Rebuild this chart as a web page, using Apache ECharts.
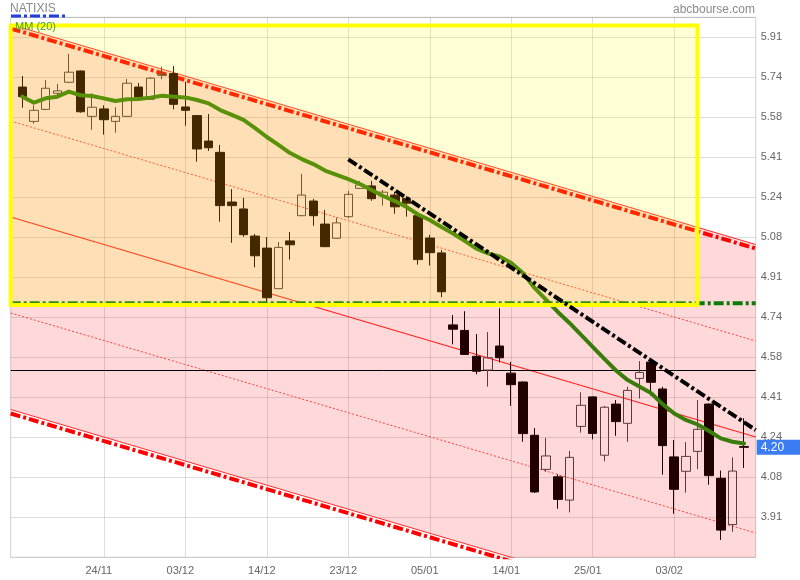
<!DOCTYPE html>
<html><head><meta charset="utf-8">
<script src="https://cdn.jsdelivr.net/npm/echarts@6/dist/echarts.min.js"></script>
<style>html,body{margin:0;padding:0;background:#fff}#c{width:800px;height:580px}</style>
</head><body><div id="c"></div>
<script>
// Trading days (first and last entries are empty padding slots at the plot edges)
const categories = ['12/11',
 '13/11','16/11','17/11','18/11','19/11','20/11','23/11','24/11','25/11','26/11','27/11','30/11',
 '01/12','02/12','03/12','04/12','07/12','08/12','09/12','10/12','11/12','14/12','15/12','16/12','17/12','18/12','21/12','22/12','23/12','24/12','28/12','29/12','30/12','31/12',
 '04/01','05/01','06/01','07/01','08/01','11/01','12/01','13/01','14/01','15/01','18/01','19/01','20/01','21/01','22/01','25/01','26/01','27/01','28/01','29/01',
 '01/02','02/02','03/02','04/02','05/02','08/02','09/02','10/02','11/02',
 '12/02'];
const xTickLabels = ['24/11','03/12','14/12','23/12','05/01','14/01','25/01','03/02'];

const opens  = [5.701,5.558,5.608,5.675,5.721,5.768,5.579,5.610,5.558,5.579,5.701,5.650,5.750,5.757,5.618,5.582,5.476,5.429,5.222,5.193,5.080,5.030,4.861,5.060,5.165,5.226,5.130,5.071,5.161,5.279,5.289,5.248,5.251,5.237,5.165,5.072,5.010,4.710,4.687,4.579,4.522,4.622,4.509,4.472,4.250,4.108,4.077,3.980,4.287,4.410,4.167,4.380,4.300,4.487,4.555,4.443,4.160,4.100,4.183,4.380,4.071,3.878,4.203];
const closes = [5.661,5.604,5.696,5.685,5.763,5.598,5.617,5.565,5.579,5.717,5.660,5.738,5.755,5.629,5.604,5.443,5.448,5.207,5.207,5.086,4.998,4.823,5.033,5.044,5.251,5.165,5.036,5.135,5.254,5.293,5.236,5.263,5.202,5.217,4.982,5.011,4.848,4.692,4.587,4.517,4.573,4.573,4.461,4.257,4.014,4.164,3.983,4.158,4.375,4.258,4.367,4.307,4.437,4.512,4.471,4.207,4.025,4.162,4.275,4.082,3.855,4.101,4.200];
const lows   = [5.615,5.548,5.605,5.654,5.719,5.594,5.523,5.503,5.511,5.577,5.655,5.648,5.733,5.608,5.540,5.390,5.435,5.140,5.052,5.077,4.950,4.802,4.859,4.982,5.163,5.123,5.034,5.069,5.154,5.276,5.227,5.207,5.173,5.161,4.961,4.957,4.825,4.629,4.585,4.504,4.453,4.554,4.373,4.223,4.010,4.098,3.944,3.929,4.261,4.233,4.142,4.248,4.223,4.403,4.415,4.086,3.923,4.011,4.109,4.044,3.814,3.848,4.114];
const highs  = [5.747,5.625,5.730,5.714,5.839,5.770,5.675,5.625,5.617,5.735,5.718,5.742,5.786,5.789,5.723,5.585,5.589,5.460,5.276,5.239,5.089,5.076,5.055,5.097,5.339,5.235,5.189,5.157,5.268,5.310,5.310,5.272,5.265,5.247,5.175,5.085,5.022,4.751,4.767,4.672,4.680,4.779,4.556,4.475,4.280,4.239,4.087,4.185,4.429,4.412,4.372,4.397,4.452,4.559,4.567,4.452,4.230,4.222,4.397,4.383,4.103,4.158,4.321];
const ma20   = [5.661,5.636,5.654,5.661,5.682,5.667,5.664,5.654,5.643,5.650,5.651,5.657,5.665,5.661,5.658,5.647,5.633,5.605,5.585,5.564,5.530,5.493,5.460,5.426,5.401,5.380,5.353,5.335,5.317,5.297,5.272,5.247,5.226,5.201,5.170,5.147,5.118,5.091,5.060,5.028,5.008,4.995,4.968,4.926,4.864,4.814,4.764,4.718,4.668,4.618,4.568,4.520,4.480,4.453,4.426,4.380,4.341,4.314,4.295,4.268,4.237,4.223,4.216];

// Regression channel (values at the left and right plot edges)
const channelX   = [0, 64];
const channelMid = [5.1596, 4.2429];
const channelUp1 = [5.5596, 4.6429];
const channelLo1 = [4.7596, 3.8429];
const channelUp2 = [5.9617, 5.0450];
const channelLo2 = [4.3575, 3.4408];
const dashUp     = [5.9450, 5.0283];
const dashLo     = [4.3408, 3.4241];
// Other drawn levels
const trendX = [29, 64];
const trendY = [5.400, 4.272];
const blackLevel = 4.52;
const greenLevel = 4.80;
const boxX = [0, 59];
const boxY = [5.958, 4.793];
const lastPrice = 4.20;

const yMin = 3.741667, yStep = 1/6, yMax = 3.741667 + 13.5/6;

const FONT = 'Liberation Sans, Arial, sans-serif';
const seg = (xs, ys) => xs.map((x, i) => [x, ys[i]]);
const DASHDOT = [10, 3, 3, 3];
function lineS(data, style, z, extra) {
  return Object.assign({
    type: 'line', data: data, symbol: 'none', showSymbol: false, silent: true, z: z,
    lineStyle: style, emphasis: { disabled: true }
  }, extra || {});
}
const tickFn = (idx, val) => xTickLabels.indexOf(val) >= 0;

const chart = echarts.init(document.getElementById('c'), null, { renderer: 'canvas' });
chart.setOption({
  animation: false,
  backgroundColor: '#fff',
  title: { text: 'NATIXIS', left: 10, top: 3, padding: 0,
    textStyle: { fontSize: 12, color: '#8c8c8c', fontWeight: 'normal', fontFamily: FONT } },
  grid: { left: 10.7, right: 44.3, top: 17.3, bottom: 22.7, show: true,
    borderColor: '#d0d0d0', borderWidth: 1, backgroundColor: '#fff' },
  xAxis: {
    type: 'category', data: categories, boundaryGap: false,
    axisLine: { show: true, lineStyle: { color: '#cccccc' } },
    axisTick: { show: false },
    axisLabel: { interval: tickFn, color: '#666', fontSize: 11, fontFamily: FONT, margin: 8, padding: [0, 10, 0, 0] },
    splitLine: { show: true, interval: tickFn, lineStyle: { color: 'rgba(0,0,0,0.13)', width: 1 } }
  },
  yAxis: {
    type: 'value', position: 'right', min: yMin, max: yMax, interval: yStep, scale: true,
    axisLine: { show: false }, axisTick: { show: false },
    axisLabel: { showMinLabel: false, showMaxLabel: false, color: '#666', fontSize: 11, fontFamily: FONT,
      margin: 5, padding: [0, 0, 4, 0], formatter: v => v.toFixed(2) },
    splitLine: { show: true, lineStyle: { color: 'rgba(0,0,0,0.13)', width: 1 } }
  },
  graphic: [
    { type: 'text', right: 45, top: 4, style: { text: 'abcbourse.com', fill: '#8a8a8a', fontSize: 12, fontFamily: FONT } },
    { type: 'line', z: 100, shape: { x1: 11, y1: 16, x2: 66, y2: 16 },
      style: { stroke: '#1f3fe0', lineWidth: 3, lineDash: DASHDOT } },
    { type: 'text', left: 15, top: 21, z: 100, style: { text: 'MM (20)', fill: '#46a010', fontSize: 11, fontFamily: FONT } }
  ],
  series: [
    // pink channel band
    lineS(seg(channelX, channelLo2), { color: '#ff2a2a', width: 1 }, 1, { stack: 'band' }),
    lineS(channelX.map((x, i) => [x, channelUp2[i] - channelLo2[i]]), { color: '#ff2a2a', width: 1 }, 1,
      { stack: 'band', areaStyle: { color: 'rgba(255,0,0,0.15)', opacity: 1 } }),
    lineS(seg(channelX, channelMid), { color: '#ff2020', width: 1.2 }, 2),
    lineS(seg(channelX, channelUp1), { color: '#ff3c3c', width: 1, type: [2, 2] }, 2),
    lineS(seg(channelX, channelLo1), { color: '#ff3c3c', width: 1, type: [2, 2] }, 2),
    lineS(seg(channelX, dashUp), { color: '#ff0000', width: 4, type: DASHDOT }, 2),
    lineS(seg(channelX, dashLo), { color: '#ff0000', width: 4, type: DASHDOT }, 2),
    lineS(seg(channelX, [blackLevel, blackLevel]), { color: '#000', width: 1 }, 2),
    {
      type: 'candlestick', z: 3, silent: true, barWidth: 9,
      data: opens.map((o, i) => [i + 1, o, closes[i], lows[i], highs[i]]),
      encode: { x: 0, y: [1, 2, 3, 4] },
      itemStyle: { color: 'rgba(255,255,255,0)', color0: '#210000', borderColor: '#5e3a3a', borderColor0: '#210000', borderWidth: 1 },
      markLine: {
        silent: true, symbol: ['none', 'none'], z: 20,
        lineStyle: { color: 'rgba(0,0,0,0)', width: 1 },
        label: { show: true, position: 'end', distance: 1, formatter: lastPrice.toFixed(2),
          backgroundColor: '#3b7cf2', color: '#fff', fontSize: 12, fontFamily: FONT, padding: [2, 18, 1, 4] },
        data: [{ yAxis: lastPrice }]
      }
    },
    lineS(ma20.map((v, i) => [i + 1, v]), { color: '#3b7d0c', width: 4, cap: 'round', join: 'round' }, 4),
    lineS(seg(channelX, [greenLevel, greenLevel]), { color: '#0b7a0b', width: 4, type: DASHDOT }, 5),
    lineS(seg(boxX, [boxY[0], boxY[0]]), { opacity: 0 }, 10, {
      markArea: { silent: true, z: 10,
        itemStyle: { color: 'rgba(255,255,0,0.16)', borderColor: '#ffff00', borderWidth: 4 },
        data: [[{ coord: [boxX[0], boxY[0]] }, { coord: [boxX[1], boxY[1]] }]] }
    }),
    lineS(seg(trendX, trendY), { color: '#000', width: 4, type: DASHDOT }, 11)
  ]
});
</script></body></html>
